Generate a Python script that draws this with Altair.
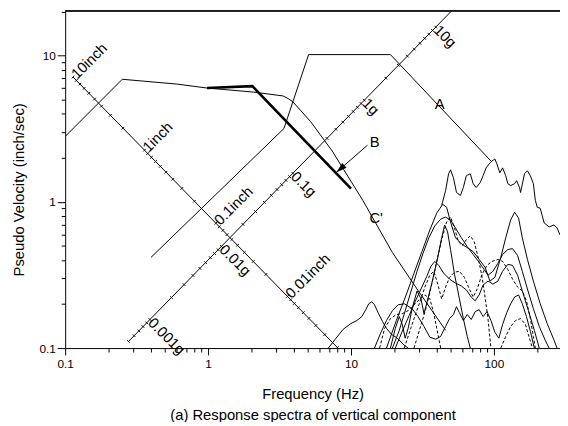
import math
import altair as alt
import pandas as pd

FONT = "Liberation Sans"
W, H = 502, 342

# ---------------- axes ----------------
X_DOMAIN = [0.1, 290]
Y_DOMAIN = [0.1, 20.2]
X_TICKS = [0.1, 0.2, 0.3, 0.4, 0.5, 0.6, 0.7, 0.8, 0.9, 1, 2, 3, 4, 5, 6, 7, 8, 9,
           10, 20, 30, 40, 50, 60, 70, 80, 90, 100, 200]
Y_TICKS = [0.1, 0.2, 0.3, 0.4, 0.5, 0.6, 0.7, 0.8, 0.9, 1, 2, 3, 4, 5, 6, 7, 8, 9, 10, 20]
X_TITLE = ["Frequency (Hz)", "(a) Response spectra of vertical component"]
Y_TITLE = "Pseudo Velocity (inch/sec)"

# ---------------- curves (Hz, inch/sec) ----------------
C_FREQ = [0.1, 0.251, 0.611, 0.984, 2.076, 3.343, 3.677, 3.919, 5.214, 7.396, 12.10, 19.49, 29.92, 45.93]
C_VEL = [2.80, 6.89, 6.38, 6.00, 5.63, 5.30, 5.05, 4.83, 3.54, 2.223, 1.023, 0.450, 0.242, 0.1322]

A_FREQ = [0.398, 3.396, 5.05, 18.88, 95.3]
A_VEL = [0.4164, 3.175, 10.16, 10.16, 1.903]

B_FREQ = [0.984, 2.043, 10.0]
B_VEL = [6.00, 6.18, 1.233]

TAIL_FREQ = [43.1, 45.93, 48.17, 49.73, 52.1, 54.7, 58.3, 61.1, 64.1, 68.3, 71.6, 75.1, 80.1, 84.0,
             88.1, 93.8, 97.0, 101.6, 104.9, 110, 115, 121, 125, 131, 139.6, 144.1, 151.1, 153.6,
             163.6, 171.6, 179.9, 188.8, 194.9, 201.1, 210.9, 224.7, 243.4, 263.5, 276.4, 290]
TAIL_VEL = [0.947, 1.195, 1.556, 1.655, 1.462, 1.159, 1.106, 1.252, 1.508, 1.556, 1.332, 1.252, 1.353, 1.508,
            1.707, 1.845, 1.903, 1.963, 1.816, 1.58, 1.707, 1.508, 1.332, 1.292, 1.332, 1.395, 1.252, 1.159,
            1.556, 1.63, 1.508, 1.332, 1.023, 0.918, 0.904, 0.717, 0.674, 0.695, 0.663, 0.595]

S1_FREQ = [17.71, 20.76, 24.33, 27.6, 31.37, 35.62, 39.81, 43.8, 46.67, 49.73, 53.83, 59.21, 65.1, 71.6,
           78.8, 86.7, 93.8, 101.6, 111.7, 121, 131, 139.6, 148.8, 158, 171.6, 188.8, 210.9, 235.7, 263.5, 276.4]
S1_VEL = [0.1, 0.1543, 0.231, 0.325, 0.457, 0.643, 0.837, 0.962, 0.918, 0.728, 0.568, 0.517, 0.486, 0.457,
          0.404, 0.357, 0.287, 0.305, 0.417, 0.568, 0.751, 0.85, 0.774, 0.568, 0.404, 0.287, 0.201, 0.1473, 0.1132, 0.1]

S2_FREQ = [19.49, 21.77, 23.95, 26.34, 28.98, 31.87, 35.05, 38.57, 42.43, 45.93, 49.73, 53.83, 59.21, 65.1,
           71.6, 78.8, 85.3, 90.9, 98.4, 106.6, 115, 125, 135, 146.4, 158, 171.6, 188.8, 207.6, 228.4, 243.4]
S2_VEL = [0.1, 0.1322, 0.1803, 0.2458, 0.335, 0.443, 0.568, 0.684, 0.762, 0.786, 0.7505, 0.663, 0.568, 0.494,
          0.436, 0.3854, 0.3457, 0.315, 0.335, 0.3795, 0.436, 0.4714, 0.479, 0.43, 0.335, 0.2535, 0.186, 0.1406, 0.1132, 0.1]

S3_FREQ = [20.43, 22.84, 25.52, 28.07, 30.88, 33.96, 36.19, 38.57, 41.1, 44.5, 48.95, 53.83, 59.21, 64.1,
           69.4, 73.96, 78.8, 84.0, 90.9, 98.4, 106.6, 115, 125, 135, 146.4, 158, 174.4, 191.8, 207.6]
S3_VEL = [0.1, 0.1302, 0.1668, 0.2073, 0.2535, 0.31, 0.362, 0.3914, 0.3679, 0.325, 0.296, 0.2783, 0.2656, 0.2498,
          0.2234, 0.2105, 0.231, 0.2698, 0.287, 0.274, 0.287, 0.335, 0.3736, 0.3679, 0.315, 0.2458, 0.1803, 0.1322, 0.1]

S4_FREQ = [6.94, 7.76, 8.81, 10.0, 11.0, 11.91, 12.69, 13.31, 13.96, 14.6, 15.6, 16.62, 17.71, 19.18, 21.1, 23.6, 25.1]
S4_VEL = [0.1, 0.115, 0.1343, 0.1473, 0.1543, 0.1642, 0.1831, 0.2009, 0.2073, 0.1978, 0.172, 0.1519, 0.1364,
          0.1242, 0.1168, 0.1046, 0.1]

S5_FREQ = [14.6, 16.1, 17.71, 19.49, 21.43, 23.6, 26.77, 29.44, 32.4, 35.62, 39.19, 42.43, 45.93, 48.95, 52.1,
           54.7, 57.37, 61.1, 65.1, 69.4, 73.96, 78.8, 84.0, 89.5, 95.3, 101.6, 108.3, 115, 123, 131, 139.6,
           148.8, 158, 168.9, 179.9, 191.8]
S5_VEL = [0.1, 0.1262, 0.1543, 0.1803, 0.1978, 0.2009, 0.186, 0.1642, 0.1406, 0.1186, 0.115, 0.1202, 0.1406,
          0.159, 0.1695, 0.1918, 0.1747, 0.1543, 0.1695, 0.1567, 0.1775, 0.1832, 0.1642, 0.1775, 0.1543, 0.1282,
          0.1168, 0.1451, 0.1747, 0.2009, 0.2234, 0.231, 0.2009, 0.1642, 0.1302, 0.1]

S6_FREQ = [18.88, 20.43, 21.77, 22.84, 23.95, 25.12, 26.77, 28.98, 30.88, 32.4, 34.5, 37.36, 40.45, 43.1,
           45.2, 47.41, 49.73, 52.98, 57.37, 61.1, 65.1, 68.3]
S6_VEL = [0.1, 0.1364, 0.1642, 0.1451, 0.1168, 0.1364, 0.186, 0.2458, 0.217, 0.172, 0.217, 0.296, 0.417, 0.568,
          0.695, 0.623, 0.4714, 0.32, 0.217, 0.159, 0.1202, 0.1]

D1_FREQ = [27.6, 30.39, 33.43, 36.77, 39.81, 43.1, 46.67, 49.73, 52.98, 56.45, 60.16, 64.1, 68.3, 72.8,
           77.6, 82.66, 86.7, 90.9, 95.3]
D1_VEL = [0.1, 0.1364, 0.186, 0.274, 0.3914, 0.5505, 0.728, 0.786, 0.663, 0.534, 0.502, 0.5505, 0.586, 0.534,
          0.417, 0.305, 0.2234, 0.159, 0.1]

D2_FREQ = [23.6, 25.52, 27.6, 30.39, 32.9, 35.62, 38.0, 40.45, 43.1, 45.93, 48.95, 52.98, 57.37, 62.1, 67.25,
           71.6, 76.36, 82.66, 89.5, 96.9, 106.6, 115, 125, 135, 146.4, 158, 168.9, 179.9, 188.8, 194.9]
D2_VEL = [0.1, 0.1262, 0.159, 0.2073, 0.2615, 0.315, 0.335, 0.274, 0.217, 0.2615, 0.305, 0.33, 0.335, 0.305,
          0.2535, 0.2234, 0.2535, 0.32, 0.3679, 0.3914, 0.4037, 0.3914, 0.3457, 0.296, 0.2615, 0.2458, 0.2105,
          0.159, 0.1202, 0.1]

D3_FREQ = [15.85, 17.2, 18.88, 20.76, 22.84, 25.12, 27.6, 30.39, 32.9, 35.62, 38.0, 40.45, 42.43]
D3_VEL = [0.1, 0.1364, 0.159, 0.1695, 0.172, 0.1803, 0.1978, 0.217, 0.231, 0.217, 0.172, 0.1262, 0.1]

D4_FREQ = [111.7, 121, 131, 141.8, 153.6, 166.2, 177.2, 186]
D4_VEL = [0.1, 0.1202, 0.1406, 0.1543, 0.159, 0.1451, 0.1168, 0.1]

# arrow (tail -> tip) and curve labels
ARROW_FREQ = [13.04, 7.88]
ARROW_VEL = [2.44, 1.588]
LABEL_TXT = ["A", "B", "C'"]
LABEL_FREQ = [41.76, 14.64, 15.0]
LABEL_VEL = [4.68, 2.555, 0.774]

# ---------------- tripartite diagonal scales ----------------
G_IN = 386.1            # inch/s^2 per g
DISP_AXIS_FV = 0.81     # f*V along the displacement scale line
ACC_AXIS_VF = 0.40      # V/f along the acceleration scale line
DISP_TICK_IN = [10, 9, 8, 7, 6, 5, 4, 3, 2, 1, 0.9, 0.8, 0.7, 0.6, 0.5, 0.4, 0.3, 0.2, 0.1,
                0.09, 0.08, 0.07, 0.06, 0.05, 0.04, 0.03, 0.02, 0.01,
                0.009, 0.008, 0.007, 0.006, 0.005, 0.004, 0.003, 0.002]
DISP_LABEL_IN = [10, 1, 0.1, 0.01]
DISP_LABEL_TXT = ["10inch", "1inch", "0.1inch", "0.01inch"]
DISP_LINE_IN = [10, 0.0019]
ACC_TICK_G = [0.0005, 0.0006, 0.0007, 0.0008, 0.0009,
              0.001, 0.002, 0.003, 0.004, 0.005, 0.006, 0.007, 0.008, 0.009,
              0.01, 0.02, 0.03, 0.04, 0.05, 0.06, 0.07, 0.08, 0.09,
              0.1, 0.2, 0.3, 0.4, 0.5, 0.6, 0.7, 0.8, 0.9,
              1, 2, 3, 4, 5, 6, 7, 8, 9, 10]
ACC_LABEL_G = [0.001, 0.01, 0.1, 1, 10]
ACC_LABEL_TXT = ["0.001g", "0.01g", "0.1g", "1g", "10g"]
ACC_LINE_G = [0.0005, 20]


def disp_point(d):
    f = math.sqrt(DISP_AXIS_FV / (2 * math.pi * d))
    return f, DISP_AXIS_FV / f


def acc_point(a_g):
    f = math.sqrt(a_g * G_IN / (2 * math.pi * ACC_AXIS_VF))
    return f, ACC_AXIS_VF * f


def pts_df(points):
    d = pd.DataFrame({"f": [p[0] for p in points], "v": [p[1] for p in points]})
    d["idx"] = range(len(d))
    return d


def series_df(items):
    frames = []
    for name, fr, vl in items:
        d = pd.DataFrame({"f": fr, "v": vl})
        d["series"] = name
        d["idx"] = range(len(d))
        frames.append(d)
    return pd.concat(frames, ignore_index=True)


DEC = "abs(log(datum.value)/LN10 - round(log(datum.value)/LN10)) < 0.000001"
LABEL_EXPR = DEC + " ? format(datum.value, '~g') : ''"

X_AXIS = alt.Axis(
    values=X_TICKS, labelExpr=LABEL_EXPR,
    tickSize={"condition": {"test": DEC, "value": 7}, "value": 4},
    tickColor="black", domainColor="black", tickWidth=1, domainWidth=1, grid=False,
    labelFont=FONT, labelFontSize=12, labelColor="black", labelPadding=4,
    labelFlush=False, labelOverlap=False,
    title=X_TITLE, titleFont=FONT, titleFontSize=15, titleFontWeight="normal",
    titleColor="black", titleBaseline="alphabetic", titleY=51, titleLineHeight=21,
)
Y_AXIS = alt.Axis(
    values=Y_TICKS, labelExpr=LABEL_EXPR,
    tickSize={"condition": {"test": DEC, "value": 8}, "value": 4},
    tickColor="black", domainColor="black", tickWidth=1, domainWidth=1, grid=False,
    labelFont=FONT, labelFontSize=12, labelColor="black", labelPadding=2,
    labelFlush=False, labelOverlap=False,
    title=Y_TITLE, titleFont=FONT, titleFontSize=15, titleFontWeight="normal",
    titleColor="black", titleX=-47, titleY=181, titleAlign="center", titleBaseline="middle",
)


def X():
    return alt.X("f:Q", scale=alt.Scale(type="log", domain=X_DOMAIN), axis=X_AXIS)


def Y():
    return alt.Y("v:Q", scale=alt.Scale(type="log", domain=Y_DOMAIN), axis=Y_AXIS)


# ---- data tables ----
disp_line = pts_df([disp_point(d) for d in DISP_LINE_IN])
disp_line["series"] = "disp"
acc_line = pts_df([acc_point(a) for a in ACC_LINE_G])
acc_line["series"] = "acc"
diag_lines = pd.concat([disp_line, acc_line], ignore_index=True)
disp_ticks = pts_df([disp_point(d) for d in DISP_TICK_IN])
acc_ticks = pts_df([acc_point(a) for a in ACC_TICK_G])
disp_labels = pts_df([disp_point(d) for d in DISP_LABEL_IN])
disp_labels["txt"] = DISP_LABEL_TXT
acc_labels = pts_df([acc_point(a) for a in ACC_LABEL_G])
acc_labels["txt"] = ACC_LABEL_TXT

thin = series_df([
    ("C", C_FREQ, C_VEL), ("A", A_FREQ, A_VEL), ("tail", TAIL_FREQ, TAIL_VEL),
    ("s1", S1_FREQ, S1_VEL), ("s2", S2_FREQ, S2_VEL), ("s3", S3_FREQ, S3_VEL),
    ("s4", S4_FREQ, S4_VEL), ("s5", S5_FREQ, S5_VEL), ("s6", S6_FREQ, S6_VEL),
    ("arrow", ARROW_FREQ, ARROW_VEL),
])
dashed = series_df([
    ("d1", D1_FREQ, D1_VEL), ("d2", D2_FREQ, D2_VEL), ("d3", D3_FREQ, D3_VEL), ("d4", D4_FREQ, D4_VEL),
])
thick = series_df([("B", B_FREQ, B_VEL)])
arrow_tip = pd.DataFrame({"f": [ARROW_FREQ[-1]], "v": [ARROW_VEL[-1]]})
curve_labels = pd.DataFrame({"f": LABEL_FREQ, "v": LABEL_VEL, "txt": LABEL_TXT})

layers = [
    alt.Chart(diag_lines).mark_line(color="black", strokeWidth=1, clip=True).encode(
        x=X(), y=Y(), detail="series:N", order="idx:Q"),
    alt.Chart(disp_ticks).mark_point(shape="M-1,1L1,-1", size=7, color="black", strokeWidth=1,
                                     opacity=1, clip=True).encode(x=X(), y=Y()),
    alt.Chart(acc_ticks).mark_point(shape="M-1,-1L1,1", size=7, color="black", strokeWidth=1,
                                    opacity=1, clip=True).encode(x=X(), y=Y()),
    alt.Chart(disp_labels).mark_text(angle=315, align="left", baseline="middle", dx=1,
                                     font=FONT, fontSize=15, color="black").encode(
        x=X(), y=Y(), text="txt:N"),
    alt.Chart(acc_labels).mark_text(angle=45, align="left", baseline="middle", dx=1,
                                    font=FONT, fontSize=15, color="black").encode(
        x=X(), y=Y(), text="txt:N"),
    alt.Chart(thin).mark_line(color="black", strokeWidth=1, clip=True).encode(
        x=X(), y=Y(), detail="series:N", order="idx:Q"),
    alt.Chart(dashed).mark_line(color="black", strokeWidth=1, strokeDash=[3, 2], clip=True).encode(
        x=X(), y=Y(), detail="series:N", order="idx:Q"),
    alt.Chart(thick).mark_line(color="black", strokeWidth=2.6, clip=True).encode(
        x=X(), y=Y(), detail="series:N", order="idx:Q"),
    alt.Chart(arrow_tip).mark_point(shape="M0,0L-0.6,2L0.6,2Z", size=121, angle=229, filled=True,
                                    color="black", opacity=1).encode(x=X(), y=Y()),
    alt.Chart(curve_labels).mark_text(font=FONT, fontSize=15, color="black", align="center",
                                      baseline="middle").encode(x=X(), y=Y(), text="txt:N"),
    alt.Chart(curve_labels).mark_rule(color="black", strokeWidth=1).encode(
        x=alt.value(0), x2=alt.value(W), y=alt.value(0)),
]

chart = alt.layer(*layers).properties(
    width=W, height=H,
    autosize=alt.AutoSizeParams(type="none"),
    padding={"left": 58, "top": 0, "right": 0, "bottom": 72},
    background="white",
).configure(font=FONT).configure_view(stroke=None)

chart.save("out.html", embed_options={"renderer": "svg", "actions": False})
